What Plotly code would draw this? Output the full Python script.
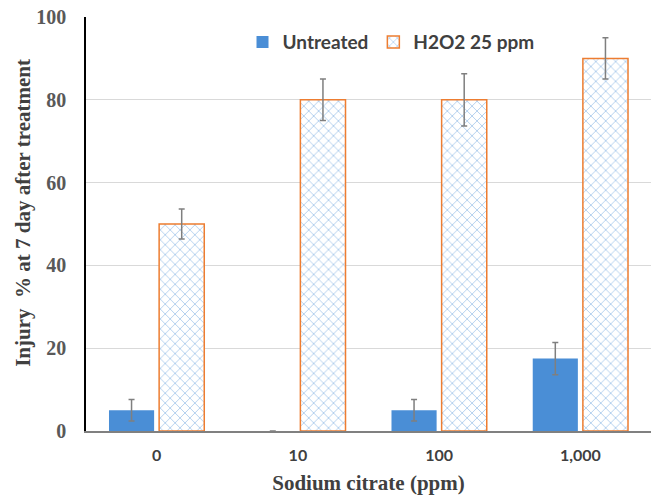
import plotly.graph_objects as go

categories = ["0", "10", "100", "1,000"]
untreated = [5, 0, 5, 17.5]
untreated_err = [2.6, 0, 2.6, 3.9]
h2o2 = [50, 80, 80, 90]
h2o2_err = [3.6, 5, 6.3, 5]

fig = go.Figure()
fig.add_trace(go.Bar(
    x=categories, y=untreated, name="Untreated",
    marker=dict(color="#4a8ed6", line=dict(width=0)),
    error_y=dict(type="data", array=untreated_err, color="#7f7f7f", thickness=1.5, width=3),
))
fig.add_trace(go.Bar(
    x=categories, y=h2o2, name="H2O2 25 ppm",
    marker=dict(color="white", line=dict(color="#ed7d31", width=1.5),
                pattern=dict(shape="x", fgcolor="#4a8ed6", bgcolor="white", size=7, solidity=0.22)),
    error_y=dict(type="data", array=h2o2_err, color="#7f7f7f", thickness=1.5, width=3),
))

fig.update_layout(
    width=651, height=497,
    margin=dict(l=86, r=0, t=17, b=66),
    paper_bgcolor="white", plot_bgcolor="white",
    barmode="group", bargap=0.29, bargroupgap=0.1,
    legend=dict(orientation="h", x=0.277, xanchor="left", y=0.985, yanchor="top",
                font=dict(family="Lato", size=19, color="#404040", weight="bold"),
                itemwidth=30, tracegroupgap=0, bgcolor="rgba(0,0,0,0)"),
    showlegend=True,
    annotations=[dict(
        text="Injury  % at 7 day after treatment", textangle=-90,
        xref="paper", yref="paper", x=-0.1115, y=0.527,
        xanchor="center", yanchor="middle", showarrow=False,
        font=dict(family="Liberation Serif", size=21, color="#404040", weight="bold"),
    )],
)
fig.update_yaxes(
    range=[0, 100], tickvals=[0, 20, 40, 60, 80, 100],
    showgrid=True, gridcolor="#d9d9d9", gridwidth=1,
    showline=True, linecolor="#000000", linewidth=1.5,
    ticks="", ticklabelstandoff=14, zeroline=False,
    tickfont=dict(family="Liberation Serif", size=20, color="#595959", weight="bold"),
)
fig.update_xaxes(
    showline=True, linecolor="#808080", linewidth=1.5, ticks="",
    ticklabelstandoff=9,
    tickfont=dict(family="Lato", size=16, color="#404040", weight="bold"),
    title=dict(text="Sodium citrate (ppm)", standoff=12,
               font=dict(family="Liberation Serif", size=21, color="#404040", weight="bold")),
)

fig.write_html("out.html")
